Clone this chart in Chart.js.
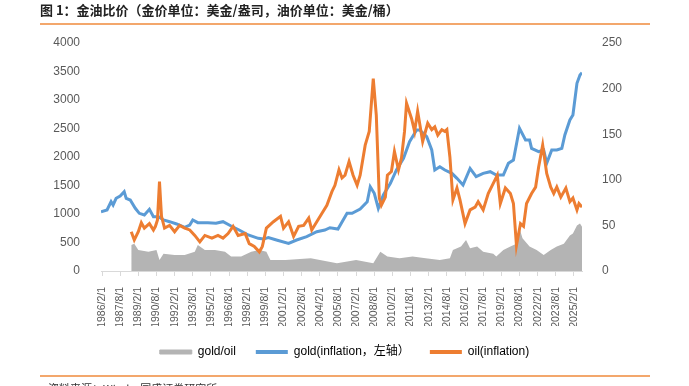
<!DOCTYPE html>
<html>
<head>
<meta charset="utf-8">
<script src="https://cdn.jsdelivr.net/npm/chart.js@4/dist/chart.umd.min.js"></script>
<style>
  html, body { margin: 0; padding: 0; background: #fff; }
  canvas { display: block; }
</style>
</head>
<body>
<canvas id="chart" width="689" height="386"></canvas>
<script>
// time is counted in months since 1986/1

// x axis tick labels (every 18 months)
const tickLabels = [
    '1986/2/1', '1987/8/1', '1989/2/1', '1990/8/1', '1992/2/1', '1993/8/1', '1995/2/1',
    '1996/8/1', '1998/2/1', '1999/8/1', '2001/2/1', '2002/8/1', '2004/2/1', '2005/8/1',
    '2007/2/1', '2008/8/1', '2010/2/1', '2011/8/1', '2013/2/1', '2014/8/1', '2016/2/1',
    '2017/8/1', '2019/2/1', '2020/8/1', '2022/2/1', '2023/8/1', '2025/2/1'
];
const tickMonths = [1, 19, 37, 55, 73, 91, 109, 127, 145, 163, 181, 199, 217, 235,
    253, 271, 289, 307, 325, 343, 361, 379, 397, 415, 433, 451, 469];

// gold, inflation adjusted (left axis)
const goldMonths = [0, 6, 10, 12, 15, 19, 23, 25, 29, 34, 38, 43, 48, 52, 57, 62, 68, 75, 83, 88,
    91, 96, 106, 114, 121, 129, 137, 146, 156, 161, 166, 174, 186, 194, 204, 214, 222, 227, 235, 244,
    249, 257, 264, 267, 271, 275, 280, 287, 293, 300, 306, 313, 316, 323, 328, 331, 336, 341, 348, 353,
    359, 366, 372, 379, 386, 392, 399, 404, 409, 415, 421, 425, 427, 434, 439, 442, 447, 452, 457, 460,
    465, 468, 472, 475, 477];
const goldValues = [1040, 1070, 1216, 1158, 1275, 1316, 1392, 1275, 1245, 1100, 1012, 982, 1082, 953, 953, 895, 865, 825, 767, 807,
    895, 848, 848, 837, 865, 790, 719, 632, 573, 560, 585, 544, 485, 544, 602, 690, 719, 760, 737, 1012,
    1012, 1088, 1216, 1479, 1363, 1100, 1333, 1538, 1772, 1977, 2268, 2474, 2474, 2357, 2123, 1772, 1830, 1772, 1713, 1626,
    1509, 1800, 1654, 1713, 1742, 1684, 1684, 1889, 1947, 2503, 2298, 2298, 2152, 2093, 2123, 1889, 2123, 2123, 2152, 2386,
    2649, 2737, 3293, 3439, 3480];

// oil, inflation adjusted (right axis)
const oilMonths = [30, 33, 37, 40, 43, 48, 52, 54, 56, 58, 60, 63, 68, 73, 78, 83, 88, 93, 98, 103,
    110, 116, 121, 126, 131, 136, 143, 147, 152, 157, 160, 164, 171, 178, 181, 186, 191, 196, 201, 206,
    209, 214, 219, 224, 229, 232, 236, 239, 242, 246, 250, 254, 257, 262, 266, 270, 273, 276, 278, 282,
    284, 288, 291, 295, 298, 301, 303, 308, 311, 314, 319, 324, 328, 331, 334, 338, 341, 343, 346, 349,
    353, 356, 361, 366, 371, 374, 379, 384, 389, 393, 396, 401, 406, 409, 412, 416, 419, 422, 427, 431,
    434, 438, 442, 446, 449, 452, 456, 461, 465, 468, 472, 474, 477];
const oilValues = [43, 34, 43, 53, 47, 52, 45, 49, 56, 98, 60, 47, 50, 43, 50, 47, 45, 39, 32, 39,
    36, 39, 36, 41, 49, 39, 41, 30, 27, 21, 27, 47, 54, 60, 47, 54, 38, 49, 50, 58,
    45, 54, 63, 72, 87, 94, 111, 102, 105, 120, 105, 94, 105, 138, 153, 211, 171, 80, 72, 81,
    105, 109, 131, 111, 124, 153, 184, 167, 153, 175, 142, 162, 155, 158, 149, 155, 153, 155, 125, 78,
    91, 78, 52, 67, 70, 76, 67, 85, 96, 105, 74, 91, 85, 74, 28, 52, 49, 74, 85, 92,
    114, 138, 107, 92, 85, 92, 81, 91, 76, 80, 67, 74, 70];

// gold/oil ratio (right axis)
const ratioMonths = [30, 33, 37, 47, 55, 58, 62, 73, 83, 93, 96, 103, 113, 123, 129, 139, 149, 157, 164, 168,
    183, 208, 234, 253, 270, 277, 284, 296, 309, 322, 336, 346, 349, 357, 362, 366, 373, 379, 389, 392,
    399, 406, 412, 415, 418, 425, 432, 439, 446, 452, 459, 465, 468, 472, 475, 477];
const ratioValues = [28.5, 30, 23, 21, 23, 12, 19, 17.5, 17.5, 21, 28.5, 23, 23, 21, 16, 16, 21, 23, 21, 12,
    12, 14, 8.4, 12, 8.5, 21, 16, 14, 16, 14, 12, 14, 23, 27, 34, 25, 27, 21, 19, 16,
    23, 27, 30, 47, 36, 27, 23, 17.5, 23, 27, 30, 39, 41, 50, 52, 48.5];

const toPoints = (xs, ys) => xs.map((x, i) => ({ x: x, y: ys[i] }));

const FONT = "'Liberation Sans', Arial, 'Noto Sans CJK SC', sans-serif";
const TEXT = '#595959';

// title, orange rules and source line
const decorations = {
    id: 'decorations',
    afterDraw(chart) {
        const c = chart.ctx;
        c.save();
        c.fillStyle = '#222';
        c.font = "bold 13px 'Noto Sans CJK SC', sans-serif";
        c.textBaseline = 'middle';
        c.fillText('图 1：金油比价（金价单位：美金/盎司，油价单位：美金/桶）', 40, 10);
        c.strokeStyle = '#ef8a3c';
        c.lineWidth = 1.5;
        c.beginPath();
        c.moveTo(40, 24); c.lineTo(650, 24);
        c.moveTo(40, 376); c.lineTo(650, 376);
        c.stroke();
        c.fillStyle = '#333';
        c.font = "11px 'Noto Sans CJK SC', sans-serif";
        c.textBaseline = 'top';
        c.fillText('资料来源：Wind，国盛证券研究所', 48, 383);
        c.restore();
    }
};

new Chart(document.getElementById('chart').getContext('2d'), {
    type: 'line',
    data: {
        datasets: [
            {
                label: 'oil(inflation)',
                data: toPoints(oilMonths, oilValues),
                yAxisID: 'yRight',
                borderColor: '#ed7d31',
                backgroundColor: '#ed7d31',
                borderWidth: 3,
                pointRadius: 0,
                order: 1
            },
            {
                label: 'gold(inflation，左轴）',
                data: toPoints(goldMonths, goldValues),
                yAxisID: 'yLeft',
                borderColor: '#5b9bd5',
                backgroundColor: '#5b9bd5',
                borderWidth: 3,
                pointRadius: 0,
                order: 2
            },
            {
                label: 'gold/oil',
                data: toPoints(ratioMonths, ratioValues),
                yAxisID: 'yRight',
                borderWidth: 0,
                borderColor: 'rgba(0,0,0,0)',
                backgroundColor: '#b4b4b4',
                fill: 'origin',
                pointRadius: 0,
                order: 3
            }
        ]
    },
    options: {
        responsive: false,
        animation: false,
        layout: { padding: { top: 43, bottom: 18, left: 0, right: 0 } },
        scales: {
            x: {
                type: 'linear',
                min: 0,
                max: 477,
                afterBuildTicks: axis => { axis.ticks = tickMonths.map(v => ({ value: v })); },
                afterFit: scale => { scale.height = 55; },
                grid: { drawOnChartArea: false, drawTicks: true, tickLength: 5, color: '#d9d9d9' },
                border: { color: '#d9d9d9' },
                ticks: {
                    autoSkip: false,
                    minRotation: 90,
                    maxRotation: 90,
                    padding: 11,
                    color: TEXT,
                    font: { family: FONT, size: 10.5 },
                    callback: (value, index) => tickLabels[index]
                }
            },
            yLeft: {
                position: 'left',
                min: 0,
                max: 4000,
                afterFit: scale => { scale.width = 101; },
                grid: { display: false },
                border: { display: false },
                ticks: {
                    stepSize: 500, padding: 13, color: TEXT,
                    font: { family: FONT, size: 12 },
                    callback: v => String(v)
                }
            },
            yRight: {
                position: 'right',
                min: 0,
                max: 250,
                afterFit: scale => { scale.width = 107; },
                grid: { display: false },
                border: { display: false },
                ticks: {
                    stepSize: 50, padding: 12, color: TEXT,
                    font: { family: FONT, size: 12 },
                    callback: v => String(v)
                }
            }
        },
        plugins: {
            legend: {
                position: 'bottom',
                labels: {
                    boxWidth: 32,
                    boxHeight: 4,
                    padding: 20,
                    color: TEXT,
                    font: { family: FONT, size: 12 },
                    generateLabels: () => [
                        { text: 'gold/oil', fillStyle: '#b4b4b4', strokeStyle: '#b4b4b4', lineWidth: 1, datasetIndex: 2 },
                        { text: 'gold(inflation，左轴）', fillStyle: '#5b9bd5', strokeStyle: '#5b9bd5', lineWidth: 0, datasetIndex: 1 },
                        { text: 'oil(inflation)', fillStyle: '#ed7d31', strokeStyle: '#ed7d31', lineWidth: 0, datasetIndex: 0 }
                    ]
                }
            },
            tooltip: { enabled: false }
        }
    },
    plugins: [decorations]
});
</script>
</body>
</html>
